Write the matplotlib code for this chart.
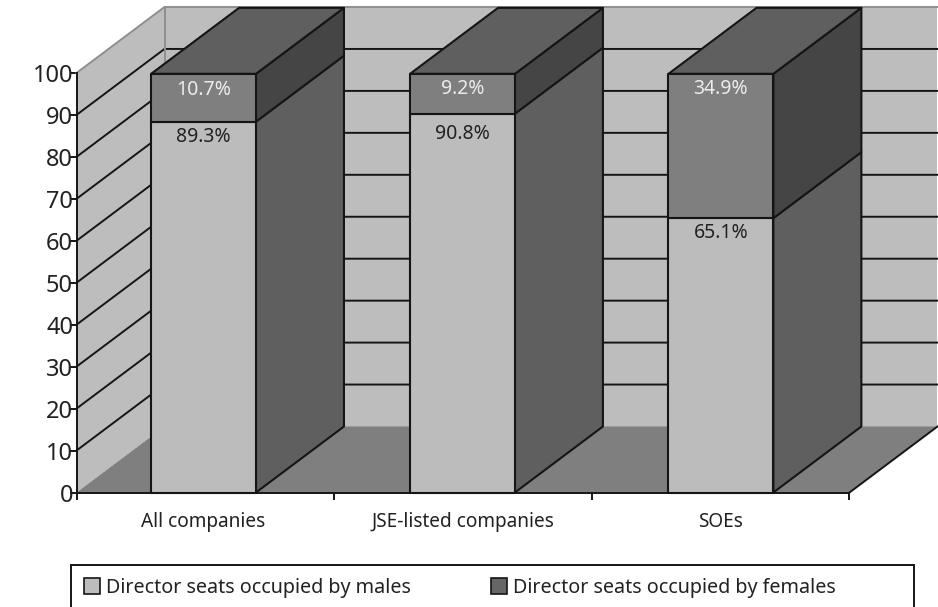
import matplotlib
matplotlib.use("Agg")
import matplotlib.pyplot as plt
from matplotlib.patches import Polygon, Rectangle, Patch

plt.rcParams['font.family'] = ['Noto Sans', 'DejaVu Sans']

categories = ["All companies", "JSE-listed companies", "SOEs"]
male_heights = [88.4, 90.3, 65.4]
female_heights = [11.4, 9.5, 34.4]
male_labels = ["89.3%", "90.8%", "65.1%"]
female_labels = ["10.7%", "9.2%", "34.9%"]
yticks = [0, 10, 20, 30, 40, 50, 60, 70, 80, 90, 100]
legend_labels = ["Director seats occupied by males", "Director seats occupied by females"]

W, H = 938, 607
fig = plt.figure(figsize=(W / 100, H / 100), dpi=100)
L, R, B, T = 76.5, 849.5, 492.5, 73
ax = fig.add_axes([L / W, 1 - B / H, (R - L) / W, (B - T) / H])
ax.set_xlim(0, 3)
ax.set_ylim(0, 100)
ax.patch.set_visible(False)

DX = 88 / ((R - L) / 3)
DY = 66 / ((B - T) / 100)
BAR_W = 0.407
BAR_CENTRES = [0.493, 1.498, 2.501]
INK = "#151515"
WALL = "#bdbdbd"
FLOOR = "#7f7f7f"
MALE_FRONT = "#bcbcbc"
MALE_SIDE = "#5f5f5f"
FEMALE_FRONT = "#7f7f7f"
FEMALE_SIDE = "#454545"
TOP = "#5f5f5f"


def poly(pts, z, fc, ec="none", lw=0):
    ax.add_patch(Polygon(pts, closed=True, facecolor=fc, edgecolor=ec, linewidth=lw,
                         zorder=z, clip_on=False, joinstyle="round"))


# walls and floor
poly([(0, 0), (DX, DY), (DX, 100 + DY), (0, 100)], 1, WALL)
poly([(DX, DY), (3 + DX, DY), (3 + DX, 100 + DY), (DX, 100 + DY)], 1, WALL)
for v in yticks[1:-1]:
    ax.plot([0, DX, 3 + DX], [v, v + DY, v + DY], color=INK, lw=1.4, zorder=2,
            clip_on=False, solid_joinstyle="miter")
poly([(0, 0), (DX, DY), (3 + DX, DY), (3, 0)], 3, FLOOR)
ax.plot([3, 3 + DX], [0, DY], color=INK, lw=1.4, zorder=4, clip_on=False)
ax.plot([0, DX, 3 + DX], [100, 100 + DY, 100 + DY], color="#8f8f8f", lw=1.4, zorder=4, clip_on=False)
ax.plot([DX, DX], [DY, 100 + DY], color="#8f8f8f", lw=1.4, zorder=2, clip_on=False)

# bars
male_offsets = [15, 20, 15]
female_offsets = [16, 15, 15]
for i, (m, f) in enumerate(zip(male_heights, female_heights)):
    xc = BAR_CENTRES[i]
    x0 = xc - BAR_W / 2
    x1 = x0 + BAR_W
    t = m + f
    kw = dict(ec=INK, lw=1.5)
    z = 5
    poly([(x1, 0), (x1 + DX, DY), (x1 + DX, m + DY), (x1, m)], z, MALE_SIDE, **kw)
    poly([(x1, m), (x1 + DX, m + DY), (x1 + DX, t + DY), (x1, t)], z, FEMALE_SIDE, **kw)
    poly([(x0, t), (x1, t), (x1 + DX, t + DY), (x0 + DX, t + DY)], z, TOP, **kw)
    poly([(x0, 0), (x1, 0), (x1, m), (x0, m)], z + 1, MALE_FRONT, **kw)
    poly([(x0, m), (x1, m), (x1, t), (x0, t)], z + 1, FEMALE_FRONT, **kw)
    ax.annotate(male_labels[i], (xc, m), xytext=(0, -male_offsets[i] * 0.72), textcoords="offset points",
                ha="center", va="center", fontsize=14, color="#222222", zorder=8)
    ax.annotate(female_labels[i], (xc, t), xytext=(0, -female_offsets[i] * 0.72), textcoords="offset points",
                ha="center", va="center", fontsize=14, color="#ececec", zorder=8)

# axes
ax.set_yticks(yticks)
ax.set_xticks([0, 1, 2, 3])
ax.set_xticklabels([])
ax.set_xticks(BAR_CENTRES, minor=True)
ax.set_xticklabels(categories, minor=True, fontsize=13.7, color="#222222")
ax.tick_params(axis="x", which="major", length=5, width=1.4, color=INK)
ax.tick_params(axis="x", which="minor", length=0, pad=14)
ax.tick_params(axis="y", length=5, width=1.4, color=INK, labelsize=17, labelcolor="#222222", pad=-2.5)
for lab in ax.get_yticklabels():
    lab.set_zorder(10)
ax.spines["top"].set_visible(False)
ax.spines["right"].set_visible(False)
for s in ("left", "bottom"):
    ax.spines[s].set_linewidth(1.4)
    ax.spines[s].set_color(INK)
    ax.spines[s].set_zorder(7)

# legend box runs off the bottom of the picture
fig.add_artist(Rectangle((71 / W, -0.02), (914 - 71) / W, 0.02 + 1 - 564.5 / H, transform=fig.transFigure,
                         facecolor="white", edgecolor=INK, linewidth=1.4))
handles = [Patch(facecolor=MALE_FRONT, edgecolor=INK, linewidth=1.2),
           Patch(facecolor="#666666", edgecolor=INK, linewidth=1.2)]
leg = fig.legend(handles, legend_labels, ncol=2, loc="upper left",
                 bbox_to_anchor=(76 / W, 1 - 570 / H), frameon=False, fontsize=14.2,
                 handlelength=0.8, handleheight=0.8, handletextpad=0.3, columnspacing=4.1,
                 borderaxespad=0, borderpad=0.4, labelcolor="#222222")
leg.set_zorder(10)

fig.savefig("out.png", dpi=100)
